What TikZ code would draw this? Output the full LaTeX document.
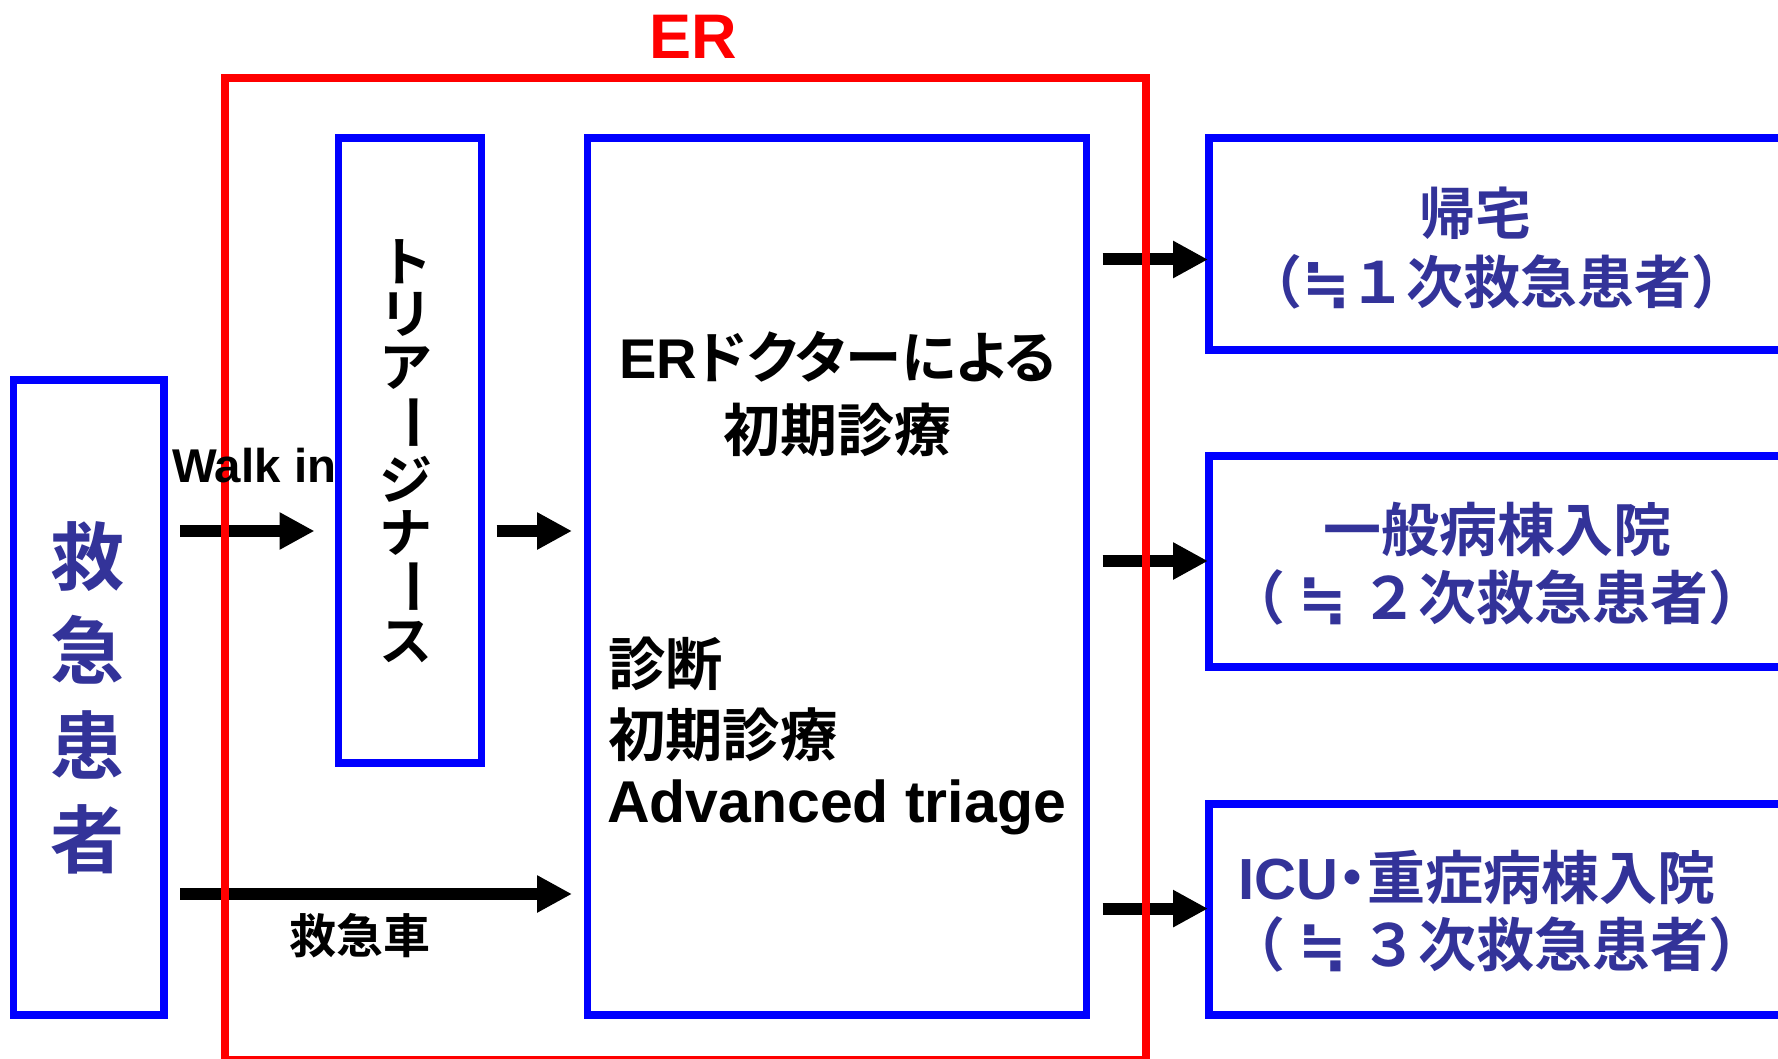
\documentclass[tikz,border=0pt]{standalone}
\usepackage{fontspec}
\usetikzlibrary{arrows.meta}
\newfontfamily\jp{Noto Sans CJK JP}[BoldFont=* Bold]
\newfontfamily\jpp{Noto Sans CJK JP}[BoldFont=* Bold,RawFeature=+palt]
\newfontfamily\lat{Liberation Sans}
\newfontfamily\dv{DejaVu Sans}
\newcommand\fsz[1]{\fontsize{#1}{#1}\selectfont}
\newcommand\approxeq{{\dv\bfseries ≒}}
\definecolor{pblue}{RGB}{0,0,255}
\definecolor{pred}{RGB}{255,0,0}
\definecolor{jblue}{RGB}{51,51,153}
\begin{document}
\begin{tikzpicture}[x=0.5pt,y=-0.5pt,
  bluebox/.style={draw=pblue, line width=3.75pt, inner sep=0pt, outer sep=0pt, rectangle},
  redbox/.style={draw=pred, line width=3.9pt, inner sep=0pt, outer sep=0pt, rectangle},
  bigarrow/.style={line width=6pt, -{Triangle[length=17.5pt,width=17.5pt]}},
  txt/.style={inner sep=0pt, outer sep=0pt},
]
\useasboundingbox (0,0) rectangle (1778,1059);
\clip (0,0) rectangle (1778,1059);
\fill[white] (0,0) rectangle (1778,1059);

% boxes
\node[bluebox, minimum width=75.25pt, minimum height=317.5pt] (patient) at (88.75,697.5) {};
\node[bluebox, minimum width=71.5pt, minimum height=312.5pt] (triage) at (410,450.5) {};
\node[bluebox, minimum width=249.55pt, minimum height=438.5pt] (main) at (837.05,576.5) {};
\node[bluebox, minimum width=290.5pt, minimum height=106pt] (out1) at (1499.5,244) {};
\node[bluebox, minimum width=290.5pt, minimum height=105.5pt] (out2) at (1499.5,561.5) {};
\node[bluebox, minimum width=290.5pt, minimum height=105.5pt] (out3) at (1499.5,909.5) {};

% arrows
\coordinate (yw) at (0,531);
\coordinate (ya) at (0,894);
\coordinate (y1) at (0,259.5);
\coordinate (y2) at (0,561);
\coordinate (y3) at (0,908.6);
\draw[bigarrow, shorten <=8pt, shorten >=12pt] (patient.east |- yw) -- (triage.west |- yw);
\draw[bigarrow, shorten <=7.5pt, shorten >=7.75pt] (triage.east |- yw) -- (main.west |- yw);
\draw[bigarrow, shorten <=8pt, shorten >=7.75pt] (patient.east |- ya) -- (main.west |- ya);
\draw[bigarrow, shorten <=8pt, shorten >=0.5pt] (main.east |- y1) -- (out1.west |- y1);
\draw[bigarrow, shorten <=8pt, shorten >=0.5pt] (main.east |- y2) -- (out2.west |- y2);
\draw[bigarrow, shorten <=8pt, shorten >=0.5pt] (main.east |- y3) -- (out3.west |- y3);

% ER frame
\node[redbox, minimum width=460.5pt, minimum height=491pt] (er) at (685.5,569) {};
\node[txt, anchor=base, font=\lat\bfseries\fsz{31.5pt}, text=pred] (erlabel) at (693.5,59) {ER};

% patient text
\node[txt, font=\jp\bfseries\fsz{37pt}, text=jblue] (p1) at (87.5,556.5) {救};
\node[txt, font=\jp\bfseries\fsz{37pt}, text=jblue] (p2) at (87.5,649.5) {急};
\node[txt, font=\jp\bfseries\fsz{37pt}, text=jblue] (p3) at (87.5,744.5) {患};
\node[txt, font=\jp\bfseries\fsz{37pt}, text=jblue] (p4) at (87.5,839.5) {者};

% labels on arrows
\node[txt, anchor=base west, font=\lat\bfseries\fsz{23.7pt}] (walkin) at (172,482) {Walk in};
\node[txt, font=\jp\bfseries\fsz{23.5pt}] (amb) at (360,936) {救急車};

% triage nurse vertical text
\node[txt, font=\jp\bfseries\fsz{26.5pt}] (t1) at (406,261.7) {ト};
\node[txt, font=\jp\bfseries\fsz{26.5pt}] (t2) at (406,314) {リ};
\node[txt, font=\jp\bfseries\fsz{26.5pt}] (t3) at (406,368.5) {ア};
\node[txt, font=\jp\bfseries\fsz{26.5pt}, rotate=-90, xscale=1.1] (t4) at (406,422.5) {ー};
\node[txt, font=\jp\bfseries\fsz{26.5pt}] (t5) at (406,479.5) {ジ};
\node[txt, font=\jp\bfseries\fsz{26.5pt}] (t6) at (406,533) {ナ};
\node[txt, font=\jp\bfseries\fsz{26.5pt}, rotate=-90, xscale=1.1] (t7) at (406,587) {ー};
\node[txt, font=\jp\bfseries\fsz{26.5pt}] (t8) at (406,642) {ス};

% main box text
\node[txt, font=\jpp\bfseries\fsz{28.2pt}] (m1) at (838,357) {{\lat\bfseries\fsz{28pt}ER}ドクターによる};
\node[txt, font=\jp\bfseries\fsz{28.5pt}] (m2) at (837,429.5) {初期診療};
\node[txt, anchor=west, font=\jp\bfseries\fsz{28.7pt}] (m3) at (608,664) {診断};
\node[txt, anchor=west, font=\jp\bfseries\fsz{28.7pt}] (m4) at (608,734.5) {初期診療};
\node[txt, anchor=base west, font=\lat\bfseries\fsz{29.5pt}] (m5) at (607,822) {Advanced triage};

% outcome texts
\node[txt, font=\jp\bfseries\fsz{28pt}, text=jblue] (r1a) at (1475.5,213.4) {帰宅};
\node[txt, font=\jp\bfseries\fsz{28.5pt}, text=jblue] (r1b) at (1497,282) {（\approxeq １次救急患者）};
\node[txt, font=\jp\bfseries\fsz{29pt}, text=jblue] (r2a) at (1497,529.5) {一般病棟入院};
\node[txt, font=\jp\bfseries\fsz{29pt}, text=jblue] (r2b) at (1497,597.3) {（ \approxeq{} ２次救急患者）};
\node[txt, font=\jpp\bfseries\fsz{29pt}, text=jblue] (r3a) at (1477,877) {{\lat\bfseries ICU}・重症病棟入院};
\node[txt, font=\jp\bfseries\fsz{29pt}, text=jblue] (r3b) at (1497,944.5) {（ \approxeq{} ３次救急患者）};
\end{tikzpicture}
\end{document}
